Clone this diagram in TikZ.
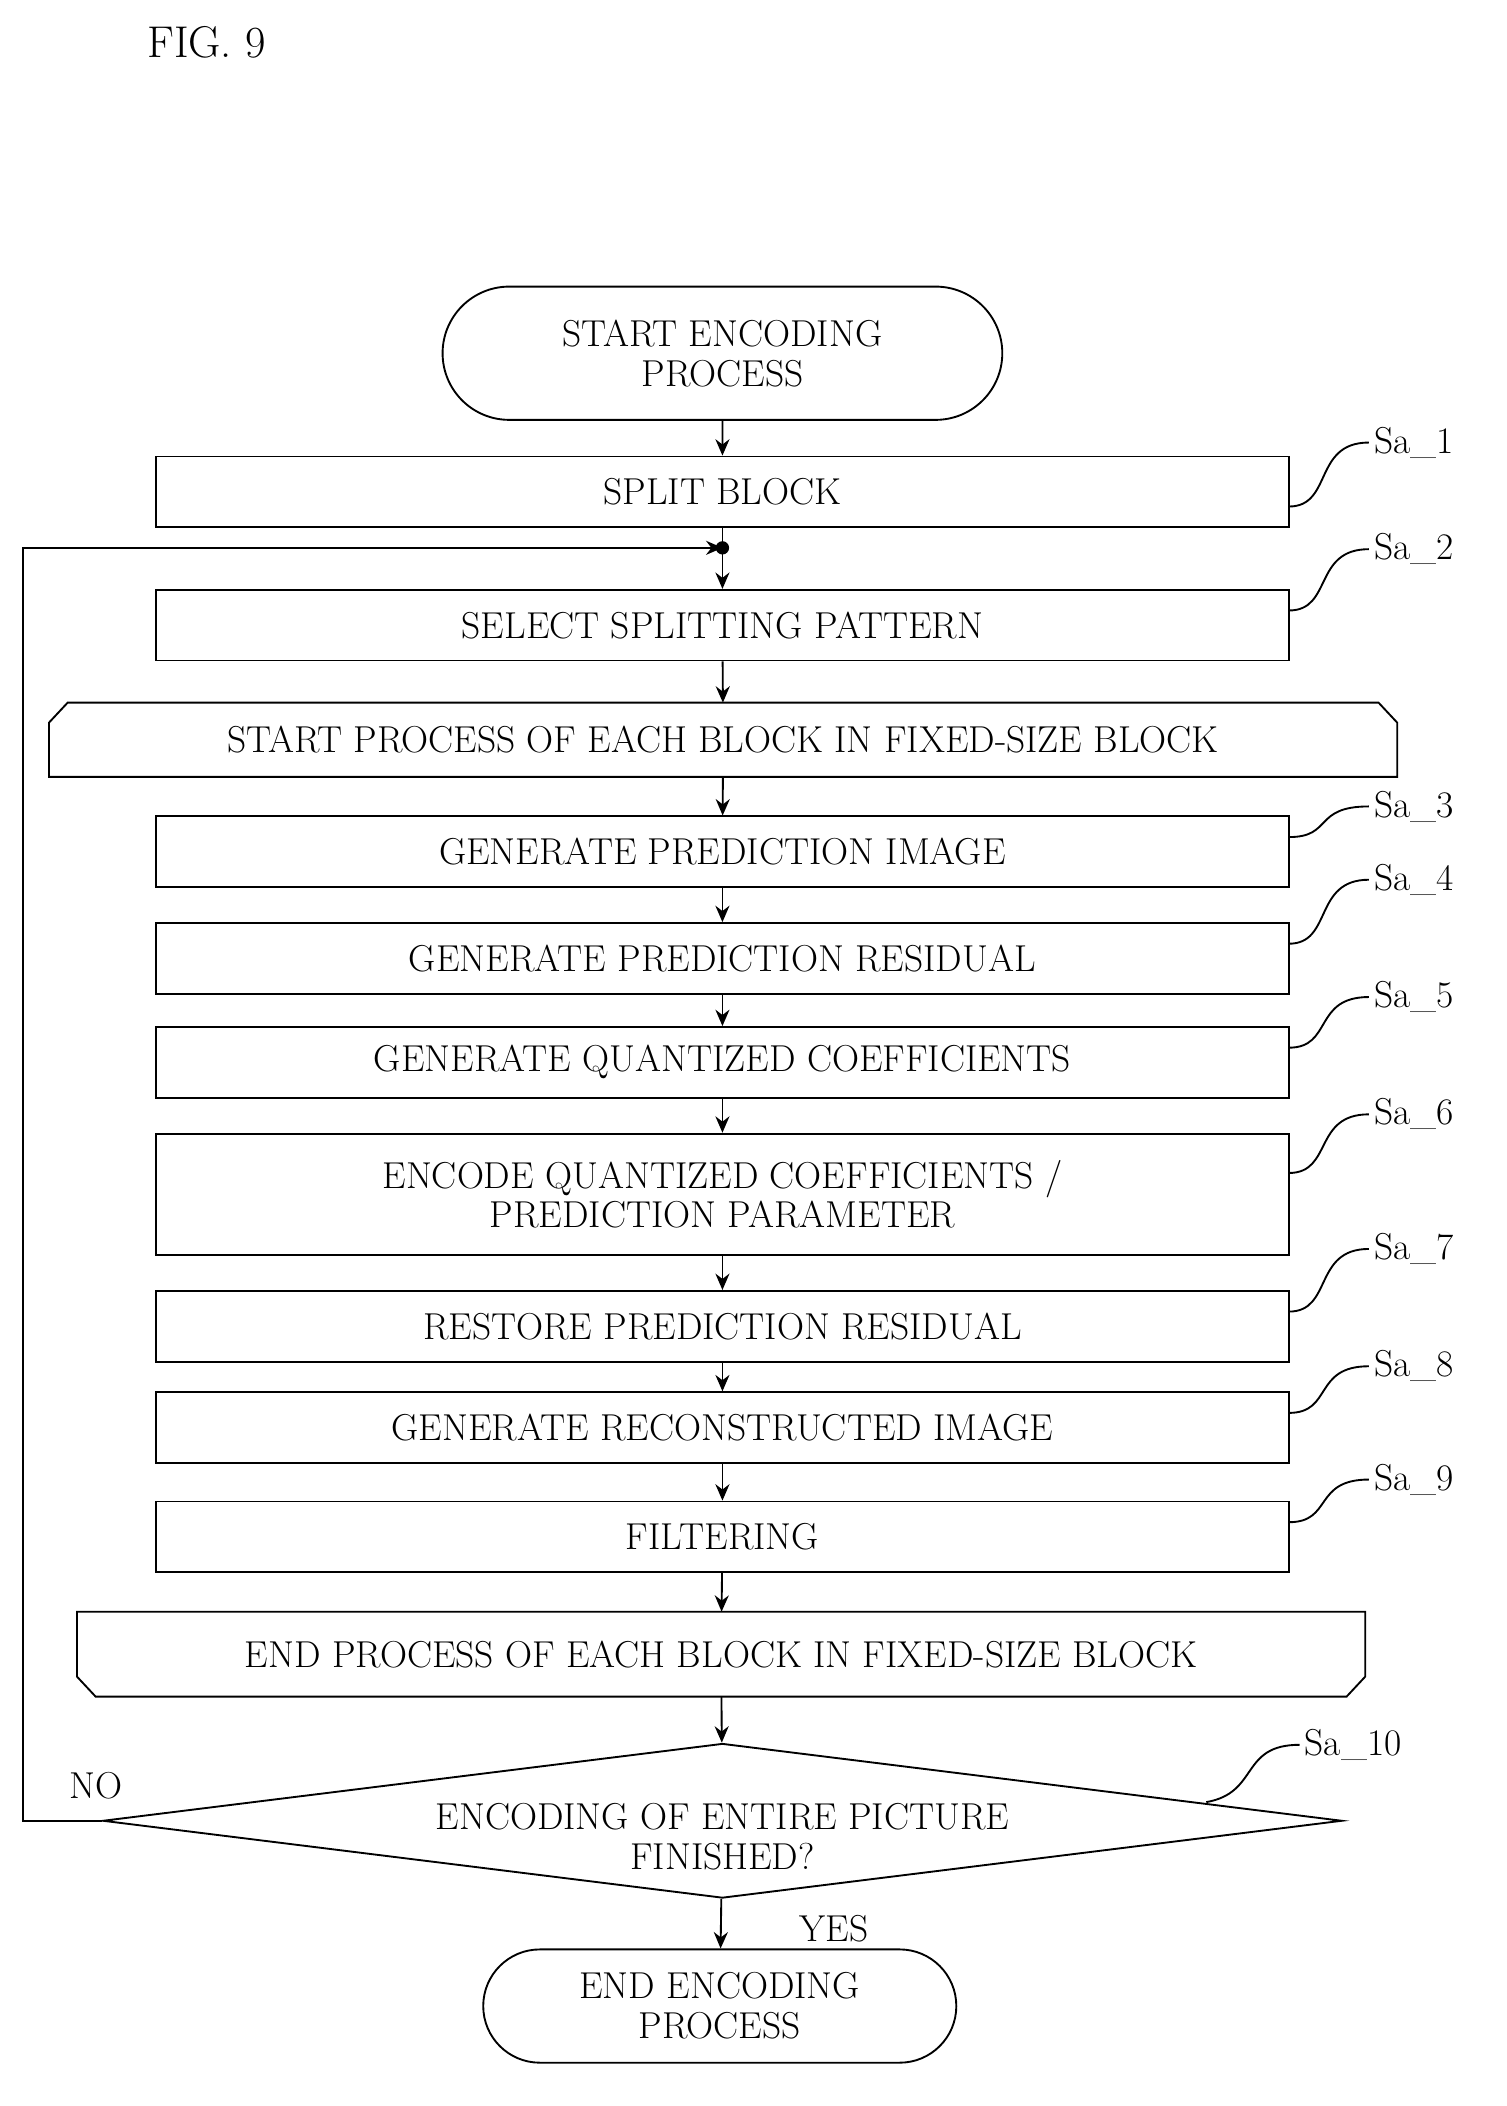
\documentclass[tikz,border=0pt]{standalone}
\usepackage{tikz}
\usetikzlibrary{shapes.geometric,shapes.misc,arrows.meta}

\begin{document}
\begin{tikzpicture}[x=0.02cm, y=-0.02cm, font=\fontsize{16}{17}\selectfont,
		stepbox/.style = {draw, thick, rectangle, minimum width=17cm, minimum height=1.06cm, inner sep=0pt},
		term/.style = {draw, thick, rounded rectangle, align=center, inner sep=0pt},
		flow/.style = {thick, -{Stealth[length=7pt,width=6pt]}},
		tag/.style  = {thick}]
		\useasboundingbox (0,0) rectangle (1130,1580);
		\node at (155,32) {\fontsize{19}{20}\selectfont FIG. 9};

		\node[term, minimum width=8.4cm, minimum height=2cm] (start) at (542,265) {START ENCODING\\PROCESS};
		\node[stepbox] (s1) at (542,369) {SPLIT BLOCK};
		\coordinate (join) at (542,411);
		\fill (join) circle (5);
		\node[stepbox] (s2) at (542,469) {SELECT SPLITTING PATTERN};
		\node[minimum width=20.22cm, minimum height=1.1cm, inner sep=0pt] (lbeg) at (542.5,555) {START PROCESS OF EACH BLOCK IN FIXED-SIZE BLOCK};
		\draw[thick] (lbeg.south west) -- ([yshift=-0.3cm]lbeg.west |- lbeg.north) -- ([xshift=0.28cm]lbeg.north west)
			-- ([xshift=-0.28cm]lbeg.north east) -- ([yshift=-0.3cm]lbeg.east |- lbeg.north) -- (lbeg.south east) -- cycle;
		\node[stepbox] (s3) at (542,639) {GENERATE PREDICTION IMAGE};
		\node[stepbox] (s4) at (542,719) {GENERATE PREDICTION RESIDUAL};
		\node[stepbox] (s5) at (542,797) {GENERATE QUANTIZED COEFFICIENTS};
		\node[stepbox, minimum height=1.82cm, align=center] (s6) at (542,896) {ENCODE QUANTIZED COEFFICIENTS /\\PREDICTION PARAMETER};
		\node[stepbox] (s7) at (542,995) {RESTORE PREDICTION RESIDUAL};
		\node[stepbox] (s8) at (542,1071) {GENERATE RECONSTRUCTED IMAGE};
		\node[stepbox] (s9) at (542,1153) {FILTERING};
		\node[minimum width=19.32cm, minimum height=1.26cm, inner sep=0pt] (lend) at (541,1241) {END PROCESS OF EACH BLOCK IN FIXED-SIZE BLOCK};
		\draw[thick] (lend.north west) -- ([yshift=0.3cm]lend.west |- lend.south) -- ([xshift=0.28cm]lend.south west)
			-- ([xshift=-0.28cm]lend.south east) -- ([yshift=0.3cm]lend.east |- lend.south) -- (lend.north east) -- cycle;
		\node[draw, thick, diamond, aspect=8, minimum width=18.6cm, minimum height=2.32cm, inner sep=0pt, align=center] (dec) at (542,1366) {};
		\node at (542,1378) [align=center] {ENCODING OF ENTIRE PICTURE\\FINISHED?};
		\node[term, minimum width=7.1cm, minimum height=1.7cm] (stop) at (540,1505) {END ENCODING\\PROCESS};

		% connectors
		\draw[flow] (start) -- (s1);
		\draw[thick] (s1) -- (join);
		\draw[flow] (join) -- (s2);
		\draw[flow] (s2) -- (lbeg);
		\draw[flow] (lbeg) -- (s3);
		\draw[flow] (s3) -- (s4);
		\draw[flow] (s4) -- (s5);
		\draw[flow] (s5) -- (s6);
		\draw[flow] (s6) -- (s7);
		\draw[flow] (s7) -- (s8);
		\draw[flow] (s8) -- (s9);
		\draw[flow] (s9) -- (lend);
		\draw[flow] (lend) -- (dec);
		\draw[flow] (dec) -- node[right, xshift=30, yshift=-2] {YES} (stop);
		\draw[flow] (dec.west) -- (17,1366) -- (17,411) -- (join);
		\node at (72,1340) {NO};

		% stepbox labels
		\foreach \s/\y/\ly/\t in {s1/380/332/1, s2/458/412/2, s3/628/605/3, s4/708/660/4, s5/786/748/5,
			s6/880/836/6, s7/984/937/7, s8/1060/1025/8, s9/1142/1110/9} {
			\node[anchor=west, inner sep=2pt] (l\t) at (1027,\ly) {Sa\_\t};
			\draw[tag] (967,\y) .. controls (1000,\y) and (985,\ly) .. (l\t.west);
		}
		\node[anchor=west, inner sep=2pt] (l10) at (975,1309) {Sa\_10};
		\draw[tag] (905,1352) .. controls (945,1345) and (930,1309) .. (l10.west);
	\end{tikzpicture}
\end{document}
